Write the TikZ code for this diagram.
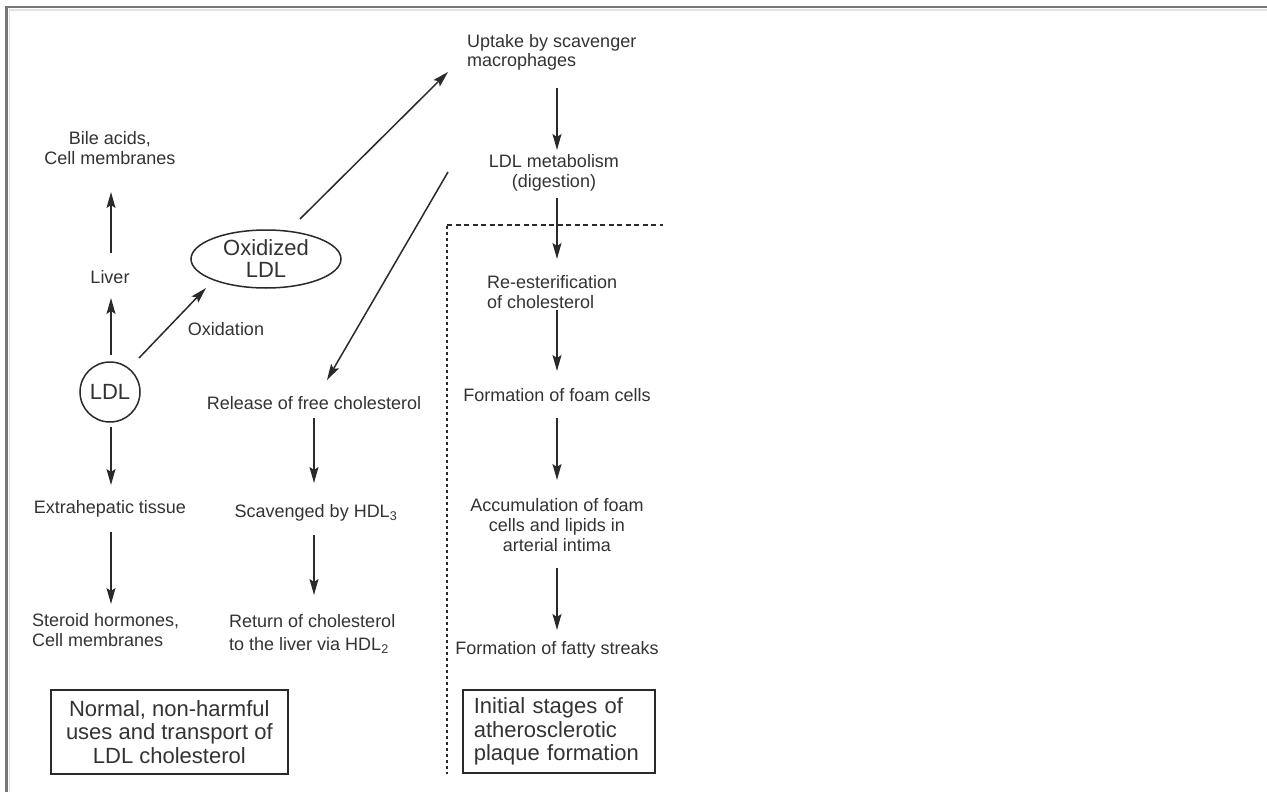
\documentclass[tikz,border=0pt]{standalone}
\usepackage{fontspec}
\setmainfont{Liberation Sans}
\usetikzlibrary{arrows.meta,shapes.geometric,calc}
\definecolor{ink}{HTML}{333333}
\definecolor{lineink}{HTML}{2A2A2A}
\definecolor{framegray}{HTML}{777777}
\definecolor{framelight}{HTML}{E2E2E2}
\begin{document}
\begin{tikzpicture}[x=1pt,y=-1pt,
  txt/.style={inner sep=0pt, text=ink, font=\fontsize{18}{19.5}\selectfont},
  big/.style={text=ink, font=\fontsize{22}{22}\selectfont},
  arr/.style={draw=lineink, line width=1.5pt, -{Stealth[length=16pt,width=9pt,inset=3pt]}},
  panel/.style={draw=lineink, line width=1.7pt, big, font=\fontsize{22}{23.5}\selectfont}]
\useasboundingbox (0,0) rectangle (1267,792);
\fill[white] (0,0) rectangle (1267,792);

% outer frame (top and left edges only)
\draw[framelight, line width=1.5pt] (9.5,792) -- (9.5,10) -- (1267,10);
\draw[framegray, line width=2.2pt] (6.5,792) -- (6.5,7) -- (1267,7);

% left column: normal uses of LDL
\node[txt, align=center] (bile) at (110,148) {Bile acids,\\Cell membranes};
\node[txt] (liver) at (110,277) {Liver};
\node[circle, draw=lineink, line width=1.5pt, minimum size=60pt, inner sep=0pt, big] (ldl) at (110,392) {LDL};
\node[txt] (extra) at (110,509) {Extrahepatic tissue};
\node[txt, align=left, anchor=west] (steroid) at (32,630) {Steroid hormones,\\Cell membranes};

% oxidation branch
\node[ellipse, draw=lineink, line width=1.5pt, minimum width=150pt, minimum height=58pt, inner sep=0pt, align=center, big] (oxi) at (266,259) {Oxidized\\LDL};
\node[txt] (oxl) at (226,329) {Oxidation};

% middle column: HDL return path
\node[txt] (release) at (314,403) {Release of free cholesterol};
\node[txt] (scav) at (316,513) {Scavenged by HDL\textsubscript{3}};
\node[txt, align=left, anchor=west, font=\fontsize{18}{22.5}\selectfont] (ret) at (229,634) {Return of cholesterol\\to the liver via HDL\textsubscript{2}};

% right column: macrophage pathway
\node[txt, align=left, anchor=west, font=\fontsize{18}{19}\selectfont] (uptake) at (467,52) {Uptake by scavenger\\macrophages};
\node[txt, align=center] (metab) at (554,173) {LDL metabolism\\(digestion)};
\node[txt, align=left, anchor=west] (reest) at (487,292) {Re-esterification\\of cholesterol};
\node[txt] (foam) at (557,395) {Formation of foam cells};
\node[txt, align=center, font=\fontsize{18}{20}\selectfont] (accum) at (557,525) {Accumulation of foam\\cells and lipids in\\arterial intima};
\node[txt] (fatty) at (557,650) {Formation of fatty streaks};

% caption boxes
\node[panel, align=center, minimum width=237pt, minimum height=84pt, inner sep=0pt, anchor=north west] (normal) at (50,689) {Normal, non-harmful\\uses and transport of\\LDL cholesterol};
\node[panel, align=left, text width=170pt, inner xsep=11pt, inner ysep=0pt, minimum height=83pt, anchor=north west] (initial) at (462,689) {Initial stages of\\atherosclerotic\\plaque formation};

% region divider
\draw[lineink, line width=2pt, dash pattern=on 5pt off 3.5pt] (447,225) -- (663,225);
\draw[lineink, line width=2.4pt, dash pattern=on 3pt off 3pt] (447,226) -- (447,774);

% connectors, left column
\draw[arr] ($(ldl)+(1,-37)$) -- ($(liver)+(1,21)$);
\draw[arr] ($(liver)+(1,-24)$) -- ($(bile)+(1,44)$);
\draw[arr] ($(ldl)+(1,35)$) -- ($(extra)+(1,-24)$);
\draw[arr] ($(extra)+(1,23)$) -- ($(extra |- steroid)+(1,-26)$);

% connectors, oxidation branch
\draw[arr] ($(ldl)+(29,-34)$) -- ($(oxi)+(-60,29)$);
\draw[arr] ($(oxi)+(34,-40)$) -- ($(uptake.west)+(-19,20)$);
\draw[arr] ($(metab)+(-106,-1)$) -- ($(release)+(13,-23)$);

% connectors, middle column
\draw[arr] ($(release)+(0,15)$) -- ($(release |- scav)+(0,-30)$);
\draw[arr] ($(release |- scav)+(0,22)$) -- ($(release |- ret)+(0,-39)$);

% connectors, right column
\draw[arr] ($(foam |- uptake)+(0,36)$) -- ($(foam |- metab)+(0,-23)$);
\draw[arr] ($(foam |- metab)+(0,25)$) -- ($(foam |- reest)+(0,-33)$);
\draw[arr] ($(foam |- reest)+(0,18)$) -- ($(foam)+(0,-24)$);
\draw[arr] ($(foam)+(0,23)$) -- ($(accum)+(0,-45)$);
\draw[arr] ($(accum)+(0,43)$) -- ($(fatty)+(0,-20)$);
\end{tikzpicture}
\end{document}
